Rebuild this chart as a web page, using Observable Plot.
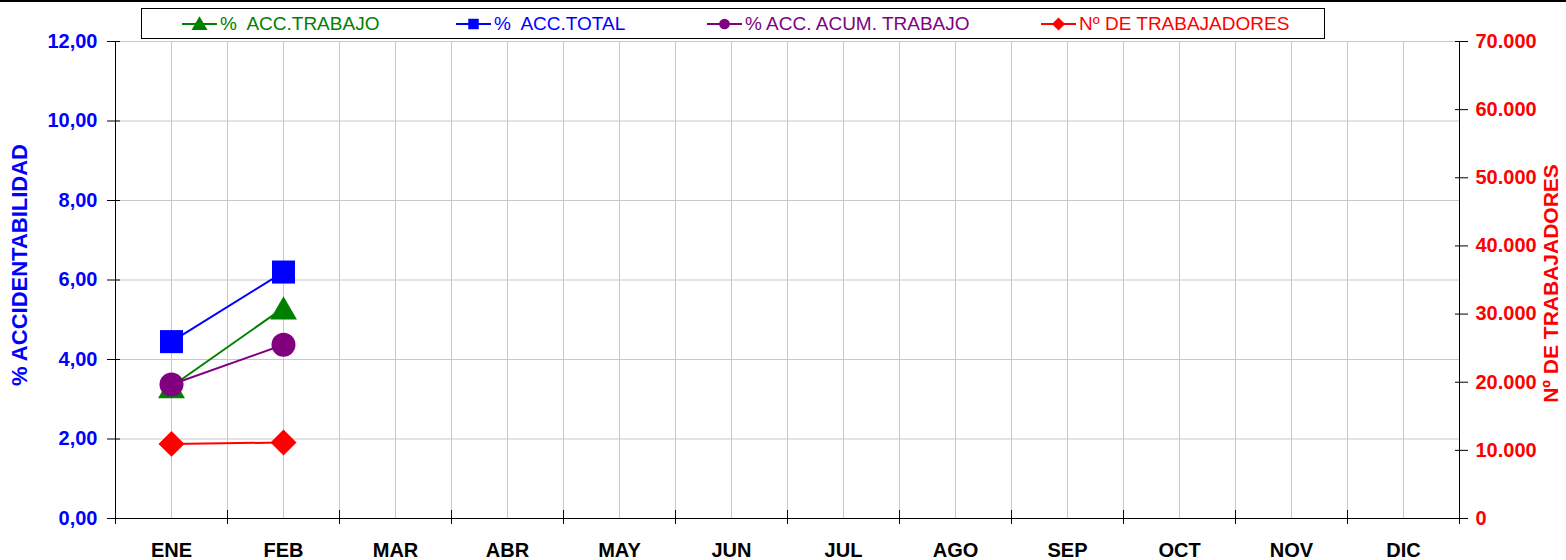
<!DOCTYPE html>
<html><head><meta charset="utf-8">
<script src="https://cdn.jsdelivr.net/npm/d3@7"></script>
<script src="https://cdn.jsdelivr.net/npm/@observablehq/plot@0.6"></script>
<style>
body{margin:0;background:#fff;}
#wrap{position:relative;width:1566px;height:560px;font-family:"Liberation Sans",Arial,sans-serif;overflow:hidden;background:#fff}
#topline{position:absolute;left:0;top:0;width:1566px;height:2px;background:#000}
#legend{position:absolute;left:141px;top:8px;width:1184px;height:31px;border:1px solid #000;background:#fff;box-sizing:border-box}
.item{position:absolute;top:0;height:29px;display:flex;align-items:center;font-size:19px;white-space:pre}
.item svg{margin-right:3px}
#chart{position:absolute;left:0;top:0}
</style></head>
<body>
<div id="wrap">
  <div id="chart"></div>
  <div id="topline"></div>
  <div id="legend"></div>
</div>
<script>
const months = ["ENE","FEB","MAR","ABR","MAY","JUN","JUL","AGO","SEP","OCT","NOV","DIC"];
const accTrabajo = [3.32, 5.3];
const accTotal = [4.45, 6.2];
const accAcumTrabajo = [3.37, 4.37];
const trabajadores = [10950, 11150];
const leftTicks = [0, 2, 4, 6, 8, 10, 12];
const rightTicks = [0, 10000, 20000, 30000, 40000, 50000, 60000, 70000];
const rightMax = 70000, leftMax = 12;
const leftTitle = "% ACCIDENTABILIDAD";
const rightTitle = "Nº DE TRABAJADORES";

const series = [
  {name: "%  ACC.TRABAJO", values: accTrabajo, color: "#008000", symbol: "triangle"},
  {name: "%  ACC.TOTAL", values: accTotal, color: "#0000ff", symbol: "square"},
  {name: "% ACC. ACUM. TRABAJO", values: accAcumTrabajo, color: "#800080", symbol: "circle"},
  {name: "Nº DE TRABAJADORES", values: trabajadores.map(v => v * leftMax / rightMax), color: "#ff0000", symbol: "diamond2"}
];
const markerR = {triangle: 10, square: 13, circle: 12, diamond2: 11.7};
const markerDy = {triangle: 4, square: 0, circle: 0, diamond2: 0};

const loc = d3.formatLocale({decimal: ",", thousands: ".", grouping: [3], currency: ["", ""]});
const fmtLeft = loc.format(".2f");
const fmtRight = loc.format(",d");

const centers = d3.range(months.length);
const bounds = d3.range(months.length + 1).map(i => i - 0.5);
const font = "Liberation Sans, Arial, sans-serif";

const marks = [
  Plot.ruleX(centers.concat(bounds.slice(1, -1)), {stroke: "#c8c8c8", strokeWidth: 1}),
  Plot.ruleY(leftTicks.slice(1), {stroke: "#c8c8c8", strokeWidth: 1}),
  Plot.ruleX([bounds[0], bounds[bounds.length - 1]], {stroke: "#000", strokeWidth: 1}),
  Plot.ruleY([0], {stroke: "#000", strokeWidth: 1}),
  Plot.axisY({anchor: "left", ticks: leftTicks, text: null, label: null, tickSize: 13, insetLeft: 5, stroke: "#000"}),
  Plot.axisY({anchor: "left", ticks: leftTicks, tickSize: 0, tickPadding: 18, tickFormat: fmtLeft, label: null,
    fill: "#0000ff", fontSize: 20, fontWeight: "bold", fontFamily: font}),
  Plot.axisY({anchor: "right", ticks: rightTicks.map(v => v * leftMax / rightMax), text: null, label: null, tickSize: 13, insetRight: 5, stroke: "#000"}),
  Plot.axisY({anchor: "right", ticks: rightTicks.map(v => v * leftMax / rightMax), tickSize: 0, tickPadding: 16, label: null,
    tickFormat: d => fmtRight(Math.round(d * rightMax / leftMax)),
    fill: "#ff0000", fontSize: 20, fontWeight: "bold", fontFamily: font}),
  Plot.axisX({anchor: "bottom", ticks: bounds, text: null, label: null, tickSize: 14, insetBottom: 8, stroke: "#000"}),
  Plot.axisX({anchor: "bottom", ticks: centers, tickSize: 0, tickPadding: 24, tickFormat: i => months[i], label: null,
    fill: "#000", fontSize: 20, fontWeight: "bold", fontFamily: font}),
  Plot.text([leftTitle], {frameAnchor: "left", text: d => d, rotate: -90, dx: -95.5, dy: -15,
    fill: "#0000ff", fontSize: 22, fontWeight: "bold", fontFamily: font, textAnchor: "middle", lineAnchor: "middle"}),
  Plot.text([rightTitle], {frameAnchor: "right", text: d => d, rotate: -90, dx: 92, dy: 3.5,
    fill: "#ff0000", fontSize: 21, fontWeight: "bold", fontFamily: font, textAnchor: "middle", lineAnchor: "middle"})
];
for (const s of series) {
  const data = s.values.map((v, i) => ({i, v}));
  marks.push(Plot.line(data, {x: "i", y: "v", stroke: s.color, strokeWidth: 2}));
}
for (const s of series) {
  const data = s.values.map((v, i) => ({i, v}));
  marks.push(Plot.dot(data, {x: "i", y: "v", symbol: () => s.symbol, fill: s.color, stroke: "none",
    r: markerR[s.symbol], dy: markerDy[s.symbol]}));
}

const chart = Plot.plot({
  width: 1566, height: 560,
  marginLeft: 115, marginRight: 107, marginTop: 41, marginBottom: 42,
  style: {background: "#fff", fontFamily: font},
  x: {type: "linear", domain: [bounds[0], bounds[bounds.length - 1]]},
  y: {type: "linear", domain: [0, leftMax]},
  symbol: {type: "identity"},
  marks
});
document.getElementById("chart").appendChild(chart);

// legend
const legend = document.getElementById("legend");
const legendX = [40, 314, 565, 899];
const symPath = {triangle: d3.symbolTriangle, square: d3.symbolSquare, circle: d3.symbolCircle, diamond2: d3.symbolDiamond2};
const legendSize = {triangle: 110, square: 110, circle: 90, diamond2: 110};
series.forEach((s, k) => {
  const div = document.createElement("div");
  div.className = "item";
  div.style.left = legendX[k] + "px";
  div.style.color = s.color;
  const svg = d3.create("svg").attr("width", 35).attr("height", 20);
  svg.append("line").attr("x1", 0).attr("x2", 35).attr("y1", 10).attr("y2", 10).attr("stroke", s.color).attr("stroke-width", 2);
  svg.append("path").attr("transform", `translate(17.5,${s.symbol === "triangle" ? 11.5 : 10})`)
    .attr("d", d3.symbol(symPath[s.symbol], legendSize[s.symbol])()).attr("fill", s.color);
  div.appendChild(svg.node());
  div.appendChild(document.createTextNode(s.name));
  legend.appendChild(div);
});
</script>
</body></html>
